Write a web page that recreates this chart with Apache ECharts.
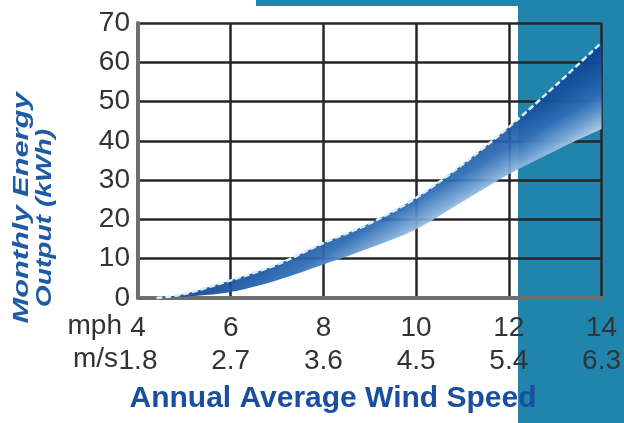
<!DOCTYPE html>
<html>
<head>
<meta charset="utf-8">
<script src="https://cdn.jsdelivr.net/npm/echarts@6/dist/echarts.min.js"></script>
<style>
html,body{margin:0;padding:0;background:#fff;}
#chart{width:624px;height:423px;}
</style>
</head>
<body>
<div id="chart"></div>
<script>
// ---- data ----
var windMph   = [4.4, 5,   6,   7,   8,    9,    10,   11,   12,   13,   14];
var upperKwh  = [0,   1,   4.5, 8.5, 14,   19,   25.5, 34,   43.5, 54,   65];
var lowerKwh  = [0,   0.3, 1.5, 4.5, 8.5,  12.7, 17.5, 24.5, 31.5, 37.5, 43];
var mphTicks  = [4, 6, 8, 10, 12, 14];
var msTicks   = ['1.8', '2.7', '3.6', '4.5', '5.4', '6.3'];
var yTicks    = [0, 10, 20, 30, 40, 50, 60, 70];
var xTitle    = 'Annual Average Wind Speed';
var yTitle1   = 'Monthly Energy';
var yTitle2   = 'Output (kWh)';

var labelFont = '"Liberation Sans",Arial,sans-serif';

// smooth path through pixel points (Catmull-Rom -> cubic Bezier)
function smoothSegs(pts, startWithMove) {
  var d = startWithMove ? 'M' + pts[0][0] + ',' + pts[0][1] : 'L' + pts[0][0] + ',' + pts[0][1];
  for (var i = 0; i < pts.length - 1; i++) {
    var p0 = pts[Math.max(i - 1, 0)], p1 = pts[i], p2 = pts[i + 1], p3 = pts[Math.min(i + 2, pts.length - 1)];
    var c1x = p1[0] + (p2[0] - p0[0]) / 6, c1y = p1[1] + (p2[1] - p0[1]) / 6;
    var c2x = p2[0] - (p3[0] - p1[0]) / 6, c2y = p2[1] - (p3[1] - p1[1]) / 6;
    d += 'C' + c1x + ',' + c1y + ',' + c2x + ',' + c2y + ',' + p2[0] + ',' + p2[1];
  }
  return d;
}

function renderBand(params, api) {
  if (params.dataIndex !== 0) return null;
  var up = windMph.map(function (x, i) { return api.coord([x, upperKwh[i]]); });
  var lo = windMph.map(function (x, i) { return api.coord([x, lowerKwh[i]]); }).reverse();
  var area = smoothSegs(up, true) + smoothSegs(lo, false) + 'Z';
  var edge = smoothSegs(up, true);
  return {
    type: 'group',
    children: [
      {
        type: 'path', shape: { pathData: area },
        style: {
          opacity: 0.93,
          fill: new echarts.graphic.LinearGradient(0, 0, 0.5, 1.5, [
            { offset: 0.50, color: '#0b3c90' },
            { offset: 0.56, color: '#1853a0' },
            { offset: 0.605, color: '#2e6db5' },
            { offset: 0.645, color: '#76a5d6' },
            { offset: 0.685, color: '#dbe7f5' },
            { offset: 1.00, color: '#ffffff' }
          ])
        }
      },
      {
        type: 'path', shape: { pathData: edge },
        style: { fill: null, stroke: '#d6eefa', lineWidth: 2.5, lineDash: [6, 3] }
      }
    ]
  };
}

var chart = echarts.init(document.getElementById('chart'));
chart.setOption({
  backgroundColor: '#ffffff',
  animation: false,
  grid: { left: 138, right: 19, top: 23, bottom: 125, containLabel: false },
  graphic: [
    { type: 'rect', z: -10, shape: { x: 518, y: 0, width: 106, height: 423 }, style: { fill: '#2184ad' } },
    { type: 'rect', z: -10, shape: { x: 256, y: 0, width: 368, height: 6 }, style: { fill: '#2184ad' } },
    { type: 'text', x: 122, y: 326, style: { text: 'mph', font: '28px ' + labelFont, fill: '#333', align: 'right', verticalAlign: 'middle' } },
    { type: 'text', x: 118, y: 359, style: { text: 'm/s', font: '28px ' + labelFont, fill: '#333', align: 'right', verticalAlign: 'middle' } },
    { type: 'text', x: 333, y: 399, z: 10, style: { text: xTitle, font: 'bold 30px "Liberation Sans",Arial,sans-serif', fill: '#1a4f9e', align: 'center', verticalAlign: 'middle' } },
    { type: 'text', x: 22, y: 208, rotation: Math.PI / 2, scaleX: 1.4, style: { text: yTitle1, font: 'italic bold 22px "Liberation Sans",Arial,sans-serif', fill: '#1f5aa5', align: 'center', verticalAlign: 'middle' } },
    { type: 'text', x: 45, y: 218, rotation: Math.PI / 2, scaleX: 1.28, style: { text: yTitle2, font: 'italic bold 22px "Liberation Sans",Arial,sans-serif', fill: '#1f5aa5', align: 'center', verticalAlign: 'middle' } }
  ],
  xAxis: {
    type: 'value', min: mphTicks[0], max: mphTicks[mphTicks.length - 1], interval: 2,
    axisLine: { show: true, onZero: false, lineStyle: { color: '#6e6e6e', width: 4 } },
    axisTick: { show: false },
    splitLine: { show: true, lineStyle: { color: '#262626', width: 2.5 } },
    axisLabel: {
      margin: 14, fontSize: 28, lineHeight: 33, color: '#333', fontFamily: labelFont,
      formatter: function (v) {
        var i = mphTicks.indexOf(v);
        return v + '\n' + (i >= 0 ? msTicks[i] : '');
      }
    }
  },
  yAxis: {
    type: 'value', min: yTicks[0], max: yTicks[yTicks.length - 1], interval: 10,
    axisLine: { show: true, lineStyle: { color: '#6e6e6e', width: 4 } },
    axisTick: { show: false },
    splitLine: { show: true, lineStyle: { color: '#262626', width: 2.5 } },
    axisLabel: { margin: 8, fontSize: 28, color: '#333', fontFamily: labelFont }
  },
  series: [
    {
      name: 'Monthly energy output', type: 'custom', coordinateSystem: 'cartesian2d',
      data: [[windMph[0], lowerKwh[0]]], encode: { x: 0, y: 1 },
      renderItem: renderBand, z: 4
    }
  ]
});
</script>
</body>
</html>
